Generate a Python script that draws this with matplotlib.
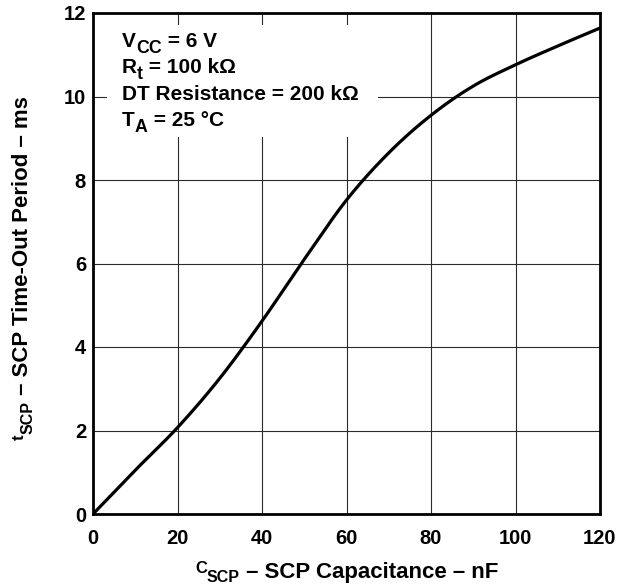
import numpy as np
import matplotlib
matplotlib.use('Agg')
import matplotlib.pyplot as plt
from matplotlib.transforms import IdentityTransform
from matplotlib.patches import Rectangle

plt.rcParams['font.family'] = 'Liberation Sans'
plt.rcParams['font.weight'] = 'bold'

# SCP capacitance (nF) vs time-out period (ms)
c_scp = [0, 10, 20, 30, 40, 50, 60, 70, 80, 90, 100, 110, 120]
t_scp = [0, 1.05, 2.07, 3.25, 4.62, 6.1, 7.52, 8.65, 9.55, 10.25, 10.76, 11.21, 11.64]

xticks = [0, 20, 40, 60, 80, 100, 120]
yticks = [0, 2, 4, 6, 8, 10, 12]


def hermite(x, y, xs):
    # smooth cubic through the read points (finite difference slopes)
    x, y = np.asarray(x, float), np.asarray(y, float)
    h = np.diff(x)
    d = np.diff(y) / h
    m = np.empty_like(y)
    m[1:-1] = (d[:-1] + d[1:]) / 2
    m[0], m[-1] = d[0], d[-1]
    i = np.clip(np.searchsorted(x, xs) - 1, 0, len(h) - 1)
    t = (xs - x[i]) / h[i]
    return ((2 * t**3 - 3 * t**2 + 1) * y[i] + (t**3 - 2 * t**2 + t) * h[i] * m[i]
            + (-2 * t**3 + 3 * t**2) * y[i + 1] + (t**3 - t**2) * h[i] * m[i + 1])


xs = np.linspace(0, 120, 481)
ys = hermite(c_scp, t_scp, xs)

W, H = 629, 587
fig = plt.figure(figsize=(W / 100, H / 100), dpi=100)
ax = fig.add_axes([93 / W, (H - 514) / H, 507 / W, 501 / H])

ax.plot(xs, ys, color='black', lw=2.3, zorder=3)

ax.set_xlim(0, 120)
ax.set_ylim(0, 12)
ax.set_xticks(xticks)
ax.set_yticks(yticks)
ax.grid(True, color='#2a2a2a', lw=0.8)
ax.tick_params(length=0, labelsize=14.5)
ax.tick_params(axis='x', pad=11)
ax.tick_params(axis='y', pad=5)
for lab in ax.get_xticklabels() + ax.get_yticklabels():
    lab.set_fontweight('bold')
for s in ax.spines.values():
    s.set_linewidth(2)
    s.set_zorder(5)

# white box behind the conditions text
ax.add_patch(Rectangle(((107 - 93) / 507, (514 - 137) / 501), (378 - 107) / 507, (137 - 25) / 501,
                       transform=ax.transAxes, facecolor='white', edgecolor='none', zorder=2.5))

renderer = fig.canvas.get_renderer()


def rich(x, y, parts, size, vertical=False):
    """parts: (text, scale, drop in px); x, y = baseline start in pixels (from top)"""
    ts, widths = [], []
    for s, sc, dr in parts:
        t = fig.text(0, 0, s, fontsize=size * sc, fontweight='bold', transform=IdentityTransform(),
                     ha='left', va='baseline', rotation_mode='anchor')
        widths.append(t.get_window_extent(renderer).width)
        ts.append(t)
    if vertical:
        pos = H - y
        for t, w, (s, sc, dr) in zip(ts, widths, parts):
            t.set_rotation(90)
            t.set_position((x + dr, pos))
            pos += w
    else:
        pos = x
        for t, w, (s, sc, dr) in zip(ts, widths, parts):
            t.set_position((pos, H - y - dr))
            pos += w


# conditions
rich(122, 47, [('V', 1, 0), ('CC', 0.85, 6), (' = 6 V', 1, 0)], 15)
rich(122, 73, [('R', 1, 0), ('t', 0.85, 6), (' = 100 kΩ', 1, 0)], 15)
rich(122, 100, [('DT Resistance = 200 kΩ', 1, 0)], 15)
rich(122, 126, [('T', 1, 0), ('A', 0.85, 6), (' = 25 °C', 1, 0)], 15)

# axis labels
rich(195, 578, [('C', 0.75, -5), ('SCP', 0.72, 3.5), (' – SCP Capacitance – nF', 1, 0)], 16)
rich(28.5, 440, [('t', 0.75, -5), ('SCP', 0.72, 4.5), (' – SCP Time-Out Period – ms', 1, 0)], 16,
     vertical=True)

fig.savefig('out.png', dpi=100)
